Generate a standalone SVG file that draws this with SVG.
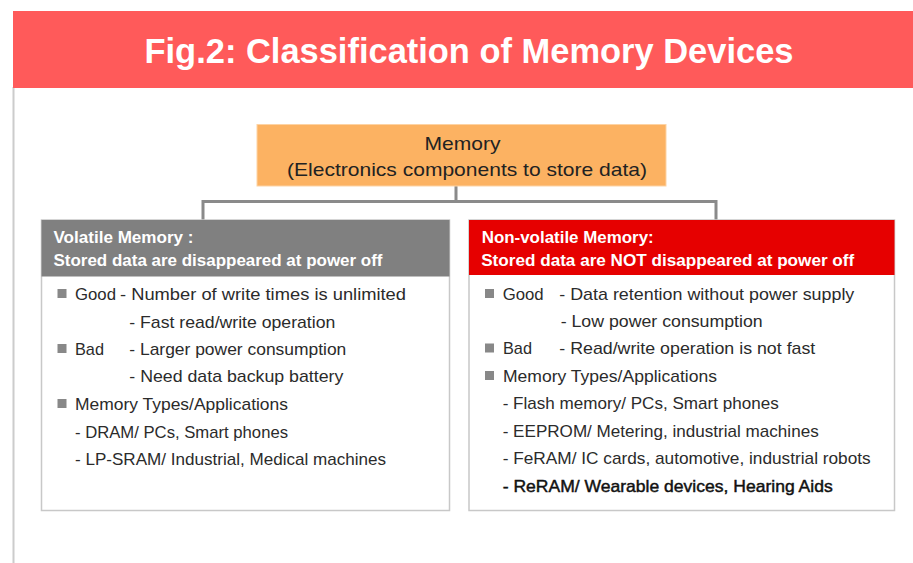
<svg xmlns="http://www.w3.org/2000/svg" width="913" height="563" viewBox="0 0 913 563">
  <style>
    .title { font-family: "Liberation Sans", Arial, sans-serif; font-size: 35px; font-weight: bold; fill: #ffffff; }
    .root-txt { font-family: "Liberation Sans", Arial, sans-serif; font-size: 19px; fill: #222222; }
    .head { font-family: "Liberation Sans", Arial, sans-serif; font-size: 16px; font-weight: bold; fill: #ffffff; }
    .body { font-family: "Liberation Sans", Arial, sans-serif; font-size: 17px; fill: #2b2b2b; }
    .strong { fill: #111111; stroke: #111111; stroke-width: 0.45; }
    .frame { fill: #ffffff; stroke: #c8c8c8; stroke-width: 1.5; }
    .bullet { fill: #888888; }
    .conn { fill: none; stroke: #8a8a8a; stroke-width: 3; }
  </style>

  <rect x="0" y="0" width="913" height="563" fill="#ffffff"/>

  <!-- page margin line and title banner -->
  <rect x="12.5" y="87" width="2" height="476" fill="#cccccc"/>
  <g id="banner">
    <rect x="13" y="11" width="900" height="77" fill="#ff5a5a"/>
    <text class="title" x="144.5" y="62.5" textLength="649" lengthAdjust="spacingAndGlyphs">Fig.2: Classification of Memory Devices</text>
  </g>

  <!-- tree connectors -->
  <g id="connectors">
    <path class="conn" d="M456 186 V201.5 M203 201.5 H716 M203 200 V220 M716 200 V220"/>
  </g>

  <!-- root node -->
  <g id="memory">
    <rect x="257" y="124.5" width="409" height="61.5" fill="#fcb262" stroke="#fdd3a4" stroke-width="1"/>
    <text class="root-txt" x="424.5" y="150" textLength="76" lengthAdjust="spacingAndGlyphs">Memory</text>
    <text class="root-txt" x="287" y="176" textLength="360" lengthAdjust="spacingAndGlyphs">(Electronics components to store data)</text>
  </g>

  <!-- volatile memory node -->
  <g id="volatile">
    <rect class="frame" x="41.5" y="220" width="408" height="290.5"/>
    <rect x="41.5" y="220" width="408" height="56.5" fill="#808080"/>
    <text class="head" x="53.5" y="243" textLength="140" lengthAdjust="spacingAndGlyphs">Volatile Memory :</text>
    <text class="head" x="53.5" y="265.5" textLength="329" lengthAdjust="spacingAndGlyphs">Stored data are disappeared at power off</text>

    <rect class="bullet" x="57.5" y="289" width="9" height="9"/>
    <text class="body" x="75" y="300" textLength="41" lengthAdjust="spacingAndGlyphs">Good</text>
    <text class="body" x="120" y="300" textLength="286" lengthAdjust="spacingAndGlyphs">- Number of write times is unlimited</text>
    <text class="body" x="129.3" y="327.7" textLength="206" lengthAdjust="spacingAndGlyphs">- Fast read/write operation</text>

    <rect class="bullet" x="57.5" y="344" width="9" height="9"/>
    <text class="body" x="75" y="355" textLength="29" lengthAdjust="spacingAndGlyphs">Bad</text>
    <text class="body" x="129.3" y="355" textLength="217" lengthAdjust="spacingAndGlyphs">- Larger power consumption</text>
    <text class="body" x="129.3" y="382.3" textLength="214" lengthAdjust="spacingAndGlyphs">- Need data backup battery</text>

    <rect class="bullet" x="57.5" y="399" width="9" height="9"/>
    <text class="body" x="75" y="410" textLength="213" lengthAdjust="spacingAndGlyphs">Memory Types/Applications</text>
    <text class="body" x="75" y="437.7" textLength="213" lengthAdjust="spacingAndGlyphs">- DRAM/ PCs, Smart phones</text>
    <text class="body" x="75" y="465" textLength="311" lengthAdjust="spacingAndGlyphs">- LP-SRAM/ Industrial, Medical machines</text>
  </g>

  <!-- non-volatile memory node -->
  <g id="nonvolatile">
    <rect class="frame" x="469" y="220" width="425.5" height="290.5"/>
    <rect x="469" y="220" width="425.5" height="55" fill="#e60000"/>
    <text class="head" x="481.7" y="243" textLength="172" lengthAdjust="spacingAndGlyphs">Non-volatile Memory:</text>
    <text class="head" x="481.2" y="265.5" textLength="373" lengthAdjust="spacingAndGlyphs">Stored data are NOT disappeared at power off</text>

    <rect class="bullet" x="485" y="289" width="9" height="9"/>
    <text class="body" x="502.7" y="300" textLength="41" lengthAdjust="spacingAndGlyphs">Good</text>
    <text class="body" x="559.3" y="300" textLength="295" lengthAdjust="spacingAndGlyphs">- Data retention without power supply</text>
    <text class="body" x="560.7" y="326.7" textLength="202" lengthAdjust="spacingAndGlyphs">- Low power consumption</text>

    <rect class="bullet" x="485" y="343.5" width="9" height="9"/>
    <text class="body" x="503" y="354.3" textLength="29" lengthAdjust="spacingAndGlyphs">Bad</text>
    <text class="body" x="559.3" y="354.3" textLength="256" lengthAdjust="spacingAndGlyphs">- Read/write operation is not fast</text>

    <rect class="bullet" x="485" y="371" width="9" height="9"/>
    <text class="body" x="503" y="381.7" textLength="214" lengthAdjust="spacingAndGlyphs">Memory Types/Applications</text>
    <text class="body" x="502.7" y="409.3" textLength="276" lengthAdjust="spacingAndGlyphs">- Flash memory/ PCs, Smart phones</text>
    <text class="body" x="502.7" y="436.7" textLength="316" lengthAdjust="spacingAndGlyphs">- EEPROM/ Metering, industrial machines</text>
    <text class="body" x="502.7" y="464.3" textLength="368" lengthAdjust="spacingAndGlyphs">- FeRAM/ IC cards, automotive, industrial robots</text>
    <text class="body strong" x="502.7" y="491.7" textLength="330" lengthAdjust="spacingAndGlyphs">- ReRAM/ Wearable devices, Hearing Aids</text>
  </g>
</svg>
